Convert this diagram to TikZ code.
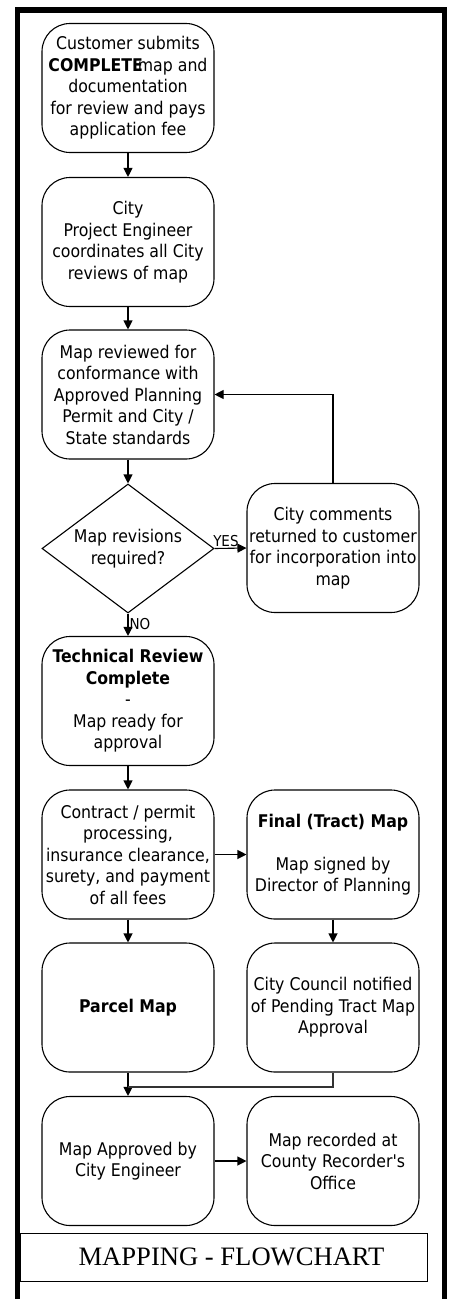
\documentclass[tikz,border=0pt]{standalone}
\usepackage{fontspec}
% plain family (no TeX quote mapping, so ' stays straight)
\newfontfamily\boxfont{DejaVu Sans Condensed}[BoldFont={DejaVu Sans Condensed Bold}]
\newfontfamily\titlefont{Liberation Serif}
\usetikzlibrary{arrows.meta,shapes.geometric}

\tikzset{
  stepbox/.style={draw, line width=1.1pt, rounded corners=28pt,
    minimum width=172pt, minimum height=129pt, inner sep=0pt,
    align=center, font=\boxfont\fontsize{17.5pt}{21.5pt}\selectfont},
  decision/.style={draw, diamond, aspect=1.333, line width=1.1pt,
    minimum width=172pt, minimum height=129pt, inner sep=0pt,
    align=center, font=\boxfont\fontsize{17.5pt}{21.5pt}\selectfont},
  flow/.style={line width=1.1pt, -{Triangle[length=9pt,width=9pt]}},
  branch/.style={font=\boxfont\fontsize{15pt}{18pt}\selectfont, inner sep=1pt},
  titlebox/.style={draw, line width=1pt, minimum width=407pt,
    minimum height=48pt, inner sep=0pt,
    font=\titlefont\fontsize{26.6pt}{30pt}\selectfont}
}

\begin{document}
\begin{tikzpicture}[x=1pt, y=-1pt]
\useasboundingbox (0,0) rectangle (451,1299);

% outer frame, open at the foot of the page
\draw[line width=5.3pt] (17.5,1299) -- (17.5,10) -- (444.5,10) -- (444.5,1299);

% left column
\node[stepbox] (submit) at (128,88)
  {Customer submits\\ \textbf{COMPLETE}\kern-5pt map and\\ documentation\\ for review and pays\\ application fee};
\node[stepbox] (engineer) at (128,242)
  {City\\ Project Engineer\\ coordinates all City\\ reviews of map};
\node[stepbox] (review) at (128,394.5)
  {Map reviewed for\\ conformance with\\ Approved Planning\\ Permit and City /\\ State standards};
\node[decision] (revisions) at (128,548.5)
  {Map revisions\\ required?};
\node[stepbox] (complete) at (128,701)
  {\textbf{Technical Review}\\ \textbf{Complete}\\ -\\ Map ready for\\ approval};
\node[stepbox] (contract) at (128,854.5)
  {Contract / permit\\ processing,\\ insurance clearance,\\ surety, and payment\\ of all fees};
\node[stepbox] (parcel) at (128,1007.5)
  {\textbf{Parcel Map}};
\node[stepbox] (approved) at (128,1161)
  {Map Approved by\\ City Engineer};

% right column
\node[stepbox] (comments) at (333,548)
  {City comments\\ returned to customer\\ for incorporation into\\ map};
\node[stepbox] (tract) at (333,854.5)
  {\textbf{Final (Tract) Map}\\[21.5pt] Map signed by\\ Director of Planning};
\node[stepbox] (council) at (333,1007.5)
  {City Council notified\\ of Pending Tract Map\\ Approval};
\node[stepbox] (recorded) at (333,1161)
  {Map recorded at\\ County Recorder's\\ Office};

% title block
\node[titlebox] (title) at (223.5,1257)
  {\hspace*{16pt}MAPPING - FLOWCHART};

% connectors
\draw[flow] (submit) -- (engineer);
\draw[flow] (engineer) -- (review);
\draw[flow] (review) -- (revisions.north);
\draw[flow] (revisions.east) -- node[branch, anchor=south east, pos=0.05, xshift=24pt] (yes) {YES} (comments.west);
\draw[flow] (revisions.south) -- node[branch, anchor=west, pos=0.45] (no) {NO} (complete.north);
\draw[flow] (comments.north) |- (review.east);
\draw[flow] (complete) -- (contract);
\draw[flow] (contract.east) -- (tract.west);
\draw[flow] (contract) -- (parcel);
\draw[flow] (tract) -- (council);
\draw[flow] (parcel) -- (approved);
\coordinate (join) at (128,1087);
\draw[line width=1.4pt, draw=black!80] (council.south) |- (join);
\draw[flow] (approved.east) -- (recorded.west);
\end{tikzpicture}
\end{document}
